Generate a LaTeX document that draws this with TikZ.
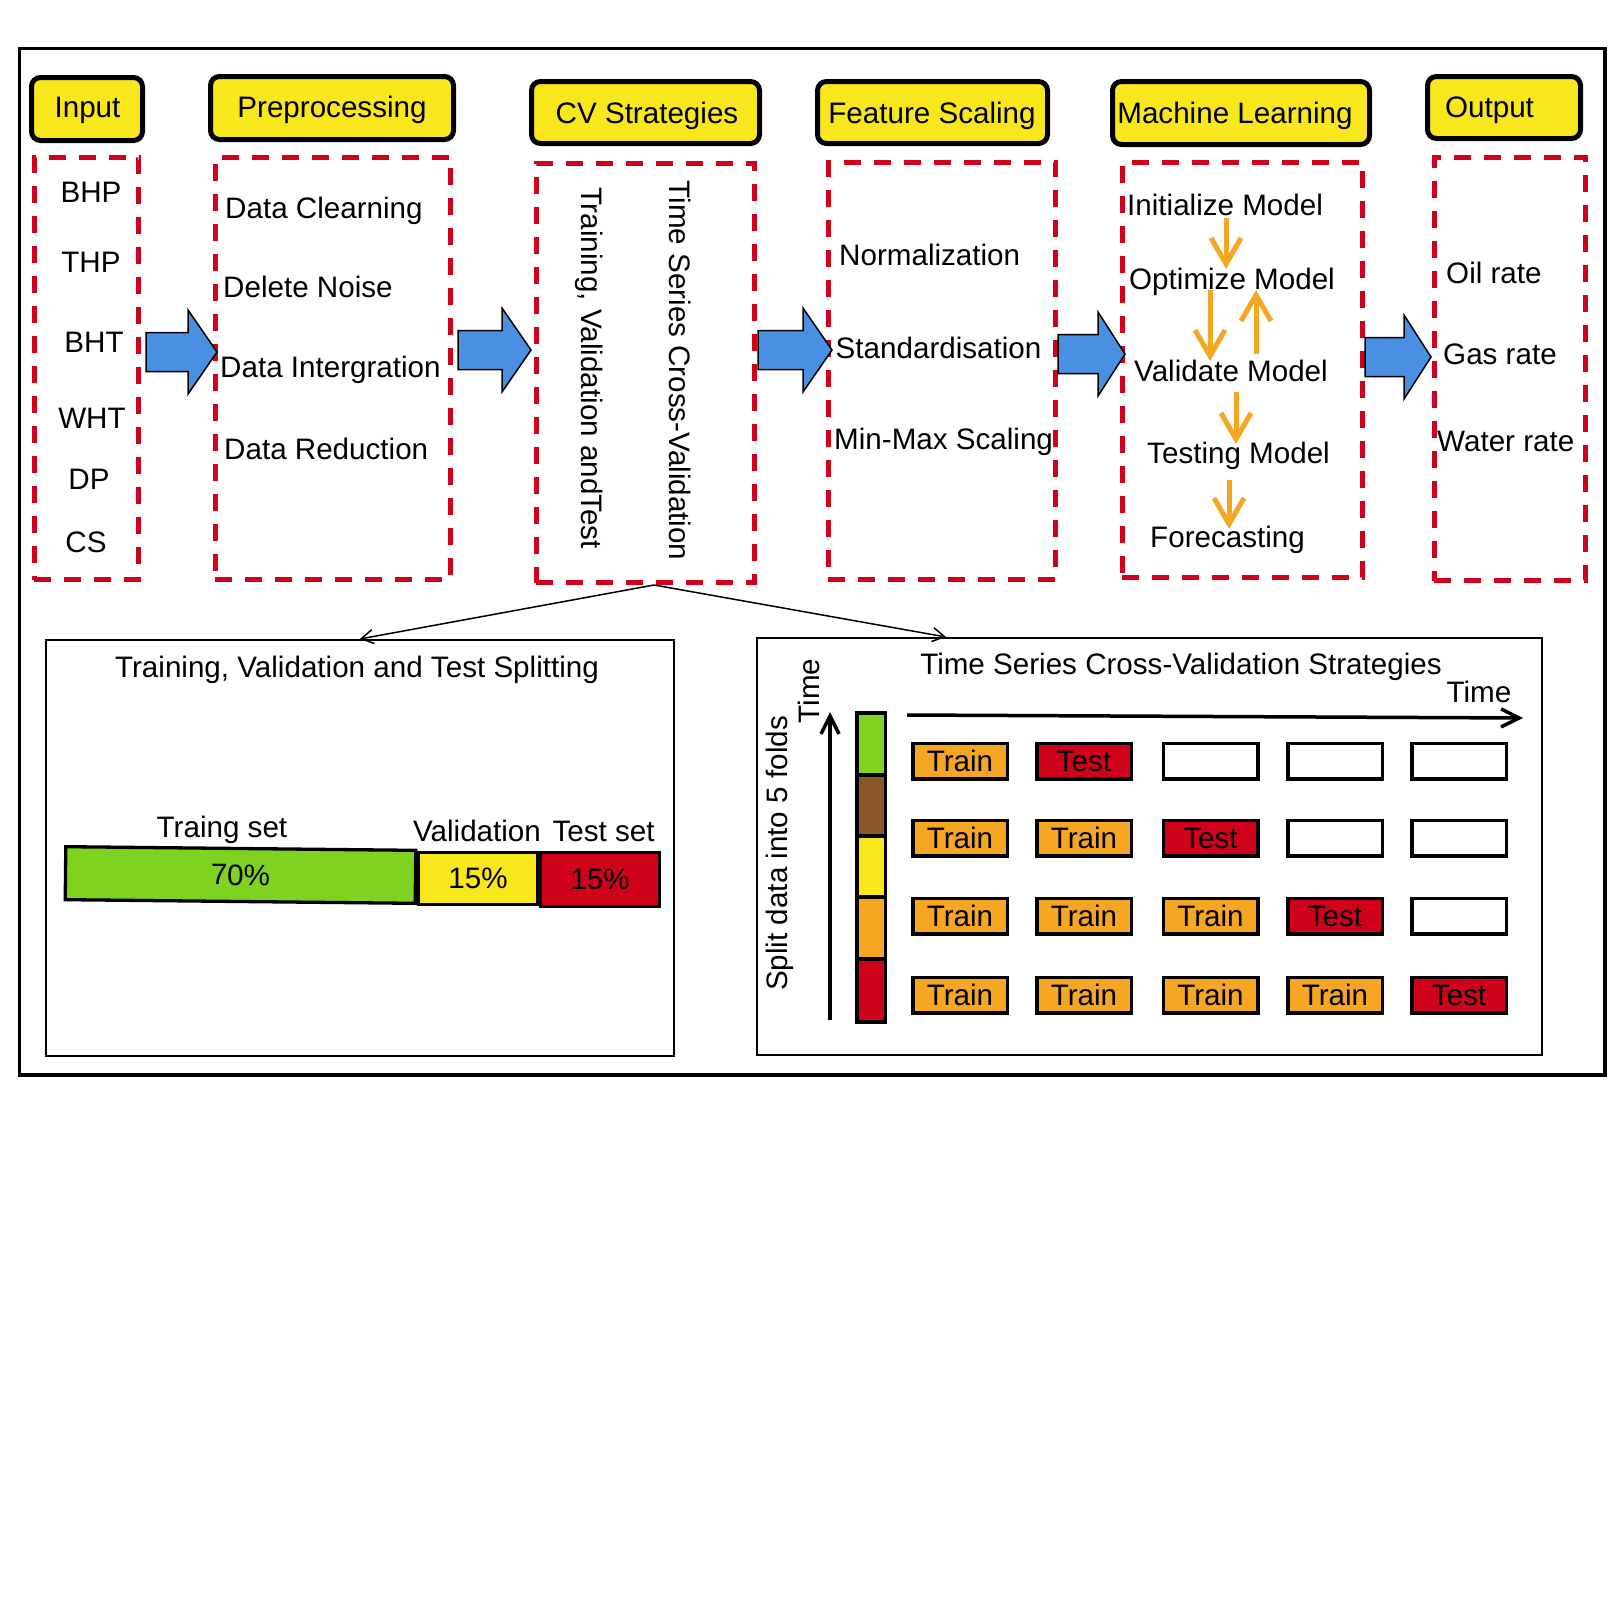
\documentclass[tikz,border=0pt]{standalone}
\usepackage{fontspec}
\setmainfont{Liberation Sans}
\usetikzlibrary{arrows.meta,calc}
\definecolor{dyellow}{HTML}{F8E71C}
\definecolor{dred}{HTML}{D0021B}
\definecolor{dgreen}{HTML}{7ED321}
\definecolor{dorange}{HTML}{F5A623}
\definecolor{dbrown}{HTML}{8B572A}
\definecolor{dblue}{HTML}{4A90E2}
\newcommand\blockarr[4]{%
  \draw[blk] (#1,#4-19.5) -- (#2,#4-19.5) -- (#2,#4-42) -- (#3,#4) -- (#2,#4+42) -- (#2,#4+19.5) -- (#1,#4+19.5) -- cycle;}
\begin{document}
\begin{tikzpicture}[x=1pt,y=-1pt,
  font=\fontsize{29.6}{34}\selectfont,
  header/.style={draw=black, line width=5pt, fill=dyellow, rounded corners=9pt, inner sep=0pt},
  dbox/.style={draw=dred, line width=4.6pt, dash pattern=on 17pt off 13pt, inner sep=0pt},
  txt/.style={inner sep=0pt, anchor=base west},
  ctxt/.style={inner sep=0pt, anchor=base},
  blk/.style={draw=black, line width=1.5pt, fill=dblue, line join=miter},
  panel/.style={draw=black, line width=2pt, inner sep=0pt},
  barseg/.style={draw=black, line width=3.3pt, inner sep=0pt},
  foldseg/.style={draw=black, line width=3.5pt, inner sep=0pt, minimum width=28.5pt},
  cell/.style={draw=black, line width=3.5pt, minimum width=94.5pt, minimum height=35.5pt, inner sep=0pt},
  trainc/.style={cell, fill=dorange},
  testc/.style={cell, fill=dred},
  emptyc/.style={cell, fill=white},
  oarrow/.style={draw=dorange, line width=5pt, -{Straight Barb[length=26pt,width=30pt]}},
  tarrow/.style={draw=black, line width=3.5pt, -{Straight Barb[length=18pt,width=18pt]}},
  thinarrow/.style={draw=black, line width=1.5pt, -{Straight Barb[length=12pt,width=14pt]}}
]
\useasboundingbox (0,0) rectangle (1624,1614);
\fill[white] (0,0) rectangle (1624,1614);

% outer frame
\node[draw=black, line width=3.5pt, minimum width=1585.5pt, minimum height=1026.5pt, inner sep=0pt] (frame) at (812.25,561.75) {};

% header boxes
\node[header, minimum width=111pt, minimum height=63pt] (hin) at (87,109) {};
\node[header, minimum width=243pt, minimum height=63pt] (hpre) at (332,108) {};
\node[header, minimum width=228pt, minimum height=62pt] (hcv) at (645.5,112.5) {};
\node[header, minimum width=230pt, minimum height=62pt] (hfs) at (932.5,112.5) {};
\node[header, minimum width=257pt, minimum height=63pt] (hml) at (1241,113) {};
\node[header, minimum width=153pt, minimum height=62pt] (hout) at (1504,107.5) {};
\node[ctxt] (tin) at (87.5,117) {Input};
\node[ctxt] (tpre) at (332,117) {Preprocessing};
\node[ctxt] (tcv) at (647,123) {CV Strategies};
\node[ctxt] (tfs) at (932,123) {Feature Scaling};
\node[ctxt] (tml) at (1235,123) {Machine Learning};
\node[ctxt] (tout) at (1489.5,117) {Output};

% dashed boxes
\node[dbox, minimum width=104.4pt, minimum height=422.4pt] (bin) at (86.5,368.5) {};
\node[dbox, minimum width=235.4pt, minimum height=422.4pt] (bpre) at (333,368.5) {};
\node[dbox, minimum width=218.4pt, minimum height=419.4pt] (bcv) at (645.5,373) {};
\node[dbox, minimum width=227.4pt, minimum height=417.4pt] (bfs) at (942,371) {};
\node[dbox, minimum width=240.4pt, minimum height=415.4pt] (bml) at (1242.5,370) {};
\node[dbox, minimum width=151.4pt, minimum height=423.4pt] (bout) at (1510,369) {};

% input items
\node[ctxt] (i1) at (91,202) {BHP};
\node[ctxt] (i2) at (91,272) {THP};
\node[ctxt] (i3) at (94,352) {BHT};
\node[ctxt] (i4) at (92,428.6) {WHT};
\node[ctxt] (i5) at (89,489) {DP};
\node[ctxt] (i6) at (86,552.5) {CS};

% preprocessing items
\node[txt] (p1) at (225,218.6) {Data Clearning};
\node[txt] (p2) at (223,297) {Delete Noise};
\node[txt] (p3) at (220,377.5) {Data Intergration};
\node[txt] (p4) at (224,459.6) {Data Reduction};

% CV items
\node[ctxt, rotate=-90] (cv1) at (581.4,368) {Training, Validation andTest};
\node[ctxt, rotate=-90] (cv2) at (669,370.5) {Time Series Cross-Validation};

% feature scaling
\node[txt] (f1) at (839,265.7) {Normalization};
\node[txt] (f2) at (835.5,358.6) {Standardisation};
\node[txt] (f3) at (834,449) {Min-Max Scaling};

% machine learning
\node[txt] (m1) at (1127,215) {Initialize Model};
\node[txt] (m2) at (1129,289) {Optimize Model};
\node[txt] (m3) at (1134,381) {Validate Model};
\node[txt] (m4) at (1147,463) {Testing Model};
\node[txt] (m5) at (1150,547) {Forecasting};

\coordinate (o1s) at (1226,218); \coordinate (o1e) at (1226,269);
\coordinate (o2s) at (1210,290); \coordinate (o2e) at (1210,361);
\coordinate (o3s) at (1256,354); \coordinate (o3e) at (1256,290);
\coordinate (o4s) at (1236,392); \coordinate (o4e) at (1236,444);
\coordinate (o5s) at (1229,480); \coordinate (o5e) at (1229,529);
\draw[oarrow] (o1s) -- (o1e);
\draw[oarrow] (o2s) -- (o2e);
\draw[oarrow] (o3s) -- (o3e);
\draw[oarrow] (o4s) -- (o4e);
\draw[oarrow] (o5s) -- (o5e);

% output
\node[txt] (out1) at (1446,283) {Oil rate};
\node[txt] (out2) at (1443,364) {Gas rate};
\node[txt] (out3) at (1437,451) {Water rate};

% block arrows
\blockarr{146}{188}{217}{352}
\blockarr{458}{502}{531}{350}
\blockarr{758}{803}{832}{350}
\blockarr{1058}{1098}{1125}{354}
\blockarr{1365}{1404}{1431}{357}

% lower panels
\node[panel, minimum width=628.5pt, minimum height=416pt] (lbox) at (359.75,848) {};
\node[panel, minimum width=785pt, minimum height=417pt] (rbox) at (1149.5,846.5) {};

\coordinate (apex) at (654,585);
\coordinate (rtarget) at (946,637);
\draw[thinarrow] (apex) -- (lbox.north);
\draw[thinarrow] (apex) -- (rtarget);

% left panel content
\node[ctxt] (ltitle) at (357,677) {Training, Validation and Test Splitting};
\node[barseg, fill=dgreen, minimum width=350pt, minimum height=53pt, rotate=-0.6] (sg) at (240.5,875) {70\%};
\node[barseg, fill=dyellow, minimum width=119pt, minimum height=52pt] (sy) at (478,878.5) {15\%};
\node[barseg, fill=dred, minimum width=119pt, minimum height=54pt] (sr) at (600,879.5) {15\%};
\node[ctxt] (lt1) at (222,837) {Traing set};
\node[ctxt] (lt2) at (477,841) {Validation};
\node[ctxt] (lt3) at (603.6,841) {Test set};

% right panel content
\node[ctxt] (rtitle) at (1181,674) {Time Series Cross-Validation Strategies};
\node[ctxt] (rtime) at (1479,702.7) {Time};
\node[ctxt, rotate=90] (vtime) at (819,691) {Time};
\node[ctxt, rotate=90] (vsplit) at (787,853.5) {Split data into 5 folds};

\coordinate (hs) at (907,715); \coordinate (he) at (1523,718);
\draw[tarrow] (hs) -- (he);
\coordinate (vs) at (830,1020); \coordinate (ve) at (830,712);
\draw[tarrow] (vs) -- (ve);

\node[foldseg, fill=dgreen, minimum height=62pt] (fd1) at (871,744) {};
\node[foldseg, fill=dbrown, minimum height=61pt] (fd2) at (871,805.5) {};
\node[foldseg, fill=dyellow, minimum height=61pt] (fd3) at (871,866.5) {};
\node[foldseg, fill=dorange, minimum height=62pt] (fd4) at (871,928) {};
\node[foldseg, fill=dred, minimum height=63pt] (fd5) at (871,990.5) {};

\foreach \r/\yy in {1/761,2/838,3/916,4/995}{
  \foreach \c/\xx in {1/960,2/1084,3/1210.5,4/1335,5/1459}{
    \pgfmathtruncatemacro\nt{\r+1}
    \ifnum\c<\nt
      \node[trainc] (c\r\c) at (\xx,\yy) {Train};
    \else\ifnum\c=\nt
      \node[testc] (c\r\c) at (\xx,\yy) {Test};
    \else
      \node[emptyc] (c\r\c) at (\xx,\yy) {};
    \fi\fi
  }
}
\end{tikzpicture}
\end{document}
